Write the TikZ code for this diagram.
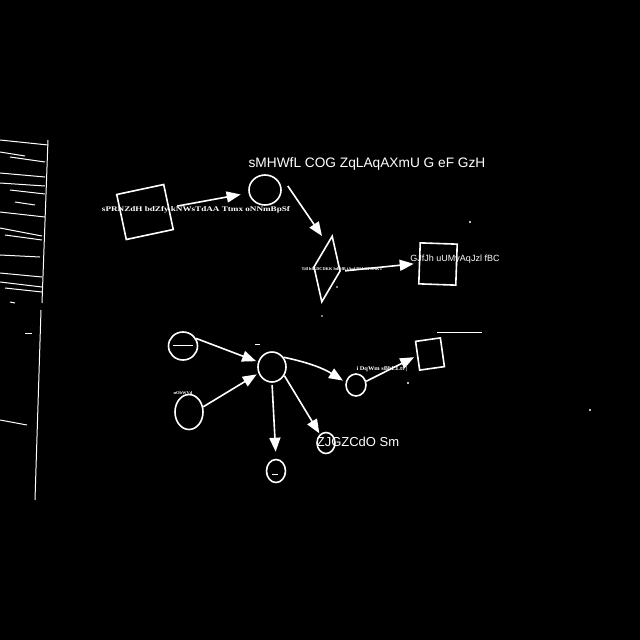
\documentclass[tikz,border=0pt]{standalone}
\usepackage{fontspec}
\usepackage{graphicx}
\setmainfont{Liberation Sans}
\newfontfamily\tinyserif{Liberation Serif}
\usetikzlibrary{arrows.meta,shapes.geometric,calc}
\begin{document}
\begin{tikzpicture}[x=1pt,y=-1pt,
  stroke/.style={draw=white, line width=1.6pt},
  conn/.style={draw=white, line width=1.6pt, -{Triangle[length=14pt,width=11pt]}},
  circ/.style={ellipse, draw=white, line width=1.6pt, inner sep=0pt},
  quad/.style={rectangle, draw=white, line width=1.6pt, inner sep=0pt},
  rule/.style={draw=white, line width=1pt},
  lbl/.style={text=white, inner sep=0pt},
  tinylbl/.style={text=white, inner sep=0pt, font=\tinyserif\bfseries}]
\fill[black] (0,0) rectangle (640,640);
\useasboundingbox (0,0) rectangle (640,640);

% left cut-off structure
\draw[rule] (48,140) -- (42,303);
\draw[rule] (41,310) -- (35,500);
\draw[rule] (0,140) -- (48,145);
\draw[rule] (0,152) -- (25,156);
\draw[rule] (10,157) -- (45,162);
\draw[rule] (0,173) -- (45,177);
\draw[rule] (0,183) -- (45,186);
\draw[rule] (10,190) -- (45,194);
\draw[rule] (15,202) -- (35,205);
\draw[rule] (0,212) -- (45,217);
\draw[rule] (0,228) -- (42,236);
\draw[rule] (5,235) -- (42,240);
\draw[rule] (0,255) -- (40,257);
\draw[rule] (0,273) -- (42,277);
\draw[rule] (0,282) -- (42,287);
\draw[rule] (5,288) -- (42,292);
\draw[rule] (10,302) -- (15,303);
\draw[rule] (25,333) -- (32,333);
\draw[rule] (0,420) -- (27,425);

% top part
\node[quad, minimum width=48pt, minimum height=46pt, rotate=12] (b1) at (145,212) {};
\node[tinylbl] (t1) at (196,210) {\resizebox{188pt}{5pt}{sPRNZdH bdZfy kNWsTdAA Ttmx oNNmBpSf}};
\node[circ, minimum width=32pt, minimum height=30pt] (c1) at (265,190) {};
\node[lbl, font=\fontsize{13.7}{14}\selectfont] (title) at (367,164) {sMHWfL COG ZqLAqAXmU G eF GzH};
\node[diamond, draw=white, line width=1.6pt, inner sep=0pt, minimum width=27pt, minimum height=67pt, rotate=-9] (d) at (327,269) {};
\node[tinylbl] (t2) at (342,269) {\resizebox{81pt}{3pt}{Tdl hfKDCDKK bdRfB jAqf Bfd HPANKT}};
\node[quad, minimum width=37pt, minimum height=41pt, rotate=-2] (b2) at (438,264) {};
\node[lbl, font=\fontsize{9}{10}\selectfont] (l2) at (455,259) {GJfJh uUMyAqJzl fBC};

\draw[conn, shorten <=8pt, shorten >=8pt] (b1) -- (c1);
\coordinate (dtip) at (322,236);
\draw[conn] ($(c1.east)+(6,-4)$) -- (dtip);
\draw[conn, shorten <=4pt, shorten >=5pt] (d.east) -- (b2.west);

% bottom part
\node[circ, minimum width=29pt, minimum height=28pt] (cA) at (183,346) {};
\draw[rule] (173,345) -- (193,345);
\node[circ, minimum width=28pt, minimum height=35pt] (cB) at (189,412) {};
\node[tinylbl] (t3) at (183,393) {\resizebox{19pt}{3pt}{nObWVd}};
\node[circ, minimum width=28pt, minimum height=30pt] (cc) at (272,367) {};
\draw[rule] (255,344) -- (260,344);
\node[circ, minimum width=20pt, minimum height=22pt] (cC) at (356,385) {};
\node[tinylbl] (t4) at (382,369) {\resizebox{51pt}{4pt}{i DqWm sBbLLtt |}};
\node[quad, minimum width=25pt, minimum height=29pt, rotate=8] (b3) at (430,354) {};
\draw[rule] (437,332) -- (482,332);
\node[circ, minimum width=18pt, minimum height=21pt] (cE) at (326,443) {};
\node[lbl, font=\fontsize{13}{14}\selectfont] (l5) at (358,442) {ZJGZCdO Sm};
\node[circ, minimum width=19pt, minimum height=23pt] (cD) at (276,471) {};
\draw[rule] (272,474) -- (278,474);

\draw[conn, shorten >=2pt] (cA.30) -- (cc.160);
\draw[conn, shorten >=2pt] (cB.20) -- (cc.205);
\draw[conn, shorten >=3pt] (cc.40) to[bend left=10] (cC.165);
\draw[conn, shorten <=2pt, shorten >=7pt] (cc.south) -- (cD.north);
\draw[conn, shorten >=1pt] (cc.-35) -- (cE.125);
\draw[conn, shorten >=3pt] (cC.20) -- (b3.west);

% specks
\fill[white] (470,222) circle (1.2pt);
\fill[white] (408,383) circle (1.2pt);
\fill[white] (590,410) circle (1.2pt);
\fill[white] (337,287) circle (0.8pt);
\fill[white] (322,316) circle (0.8pt);
\end{tikzpicture}
\end{document}
